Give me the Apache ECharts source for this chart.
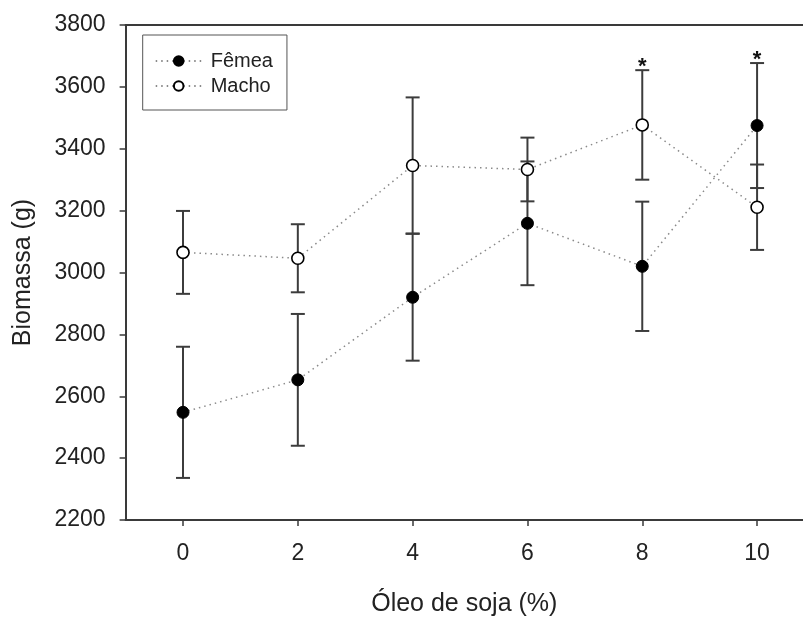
<!DOCTYPE html>
<html>
<head>
<meta charset="utf-8">
<script src="https://cdn.jsdelivr.net/npm/echarts@6/dist/echarts.min.js"></script>
<style>
  html, body { margin: 0; padding: 0; background: #fff; }
  #chart { width: 803px; height: 622px; }
</style>
</head>
<body>
<div id="chart"></div>
<script>
// Soybean oil level (%) on the x axis
const oilLevels = [0, 2, 4, 6, 8, 10];
// Mean biomass (g) and error (g) per group
const femeaMean = [2548, 2653, 2920, 3159, 3020, 3475];
const femeaErr  = [212, 213, 205, 200, 209, 202];
const machoMean = [3065, 3046, 3346, 3333, 3477, 3211];
const machoErr  = [134, 110, 220, 103, 177, 138];
// Levels flagged with an asterisk
const signifLevels = [8, 10];
// Axis tick values
const xTickValues = [0, 2, 4, 6, 8, 10];
const yMin = 2200, yMax = 3800, yStep = 200;

const FONT = '"Liberation Sans", Arial, sans-serif';
const AXIS_COLOR = '#3a3a3a';

function barData(means, errs) {
  return oilLevels.map((x, i) => [x, means[i] - errs[i], means[i] + errs[i]]);
}

function renderErrorBar(params, api) {
  const x = api.value(0);
  const lo = api.coord([x, api.value(1)]);
  const hi = api.coord([x, api.value(2)]);
  const half = 7;
  const style = { stroke: '#3c3c3c', lineWidth: 2 };
  return {
    type: 'group',
    children: [
      { type: 'line', shape: { x1: lo[0], y1: lo[1], x2: hi[0], y2: hi[1] }, style },
      { type: 'line', shape: { x1: hi[0] - half, y1: hi[1], x2: hi[0] + half, y2: hi[1] }, style },
      { type: 'line', shape: { x1: lo[0] - half, y1: lo[1], x2: lo[0] + half, y2: lo[1] }, style }
    ]
  };
}

const signifData = signifLevels.map(x => {
  const i = oilLevels.indexOf(x);
  return [x, Math.max(femeaMean[i] + femeaErr[i], machoMean[i] + machoErr[i])];
});

function renderAsterisk(params, api) {
  const p = api.coord([api.value(0), api.value(1)]);
  return {
    type: 'text',
    x: p[0],
    y: p[1] - 3,
    style: {
      text: '*',
      font: 'bold 22px ' + FONT,
      fill: '#111',
      align: 'center',
      verticalAlign: 'middle'
    }
  };
}

const chart = echarts.init(document.getElementById('chart'), null, { renderer: 'canvas' });

chart.setOption({
  animation: false,
  backgroundColor: '#fff',
  grid: { left: 125.6, right: 0, top: 25, bottom: 101, containLabel: false },
  legend: {
    orient: 'vertical',
    left: 142.7,
    top: 35,
    padding: [16, 14, 14, 12],
    itemGap: 5,
    itemWidth: 46,
    itemHeight: 12,
    borderColor: '#555',
    borderWidth: 1,
    borderRadius: 0,
    textStyle: { fontFamily: FONT, fontSize: 20, color: '#222', padding: [0, 0, 0, 4] },
    data: ['Fêmea', 'Macho']
  },
  xAxis: [
    {
      type: 'value',
      min: -1,
      max: 10.8,
      position: 'bottom',
      name: 'Óleo de soja (%)',
      nameLocation: 'middle',
      nameGap: 72,
      nameTextStyle: { fontFamily: FONT, fontSize: 25, color: '#222' },
      axisLine: { show: true, onZero: false, lineStyle: { color: AXIS_COLOR, width: 2 } },
      axisTick: { show: true, customValues: xTickValues, length: 6, lineStyle: { color: AXIS_COLOR, width: 1.5 } },
      axisLabel: { customValues: xTickValues, margin: 22, fontFamily: FONT, fontSize: 23, color: '#222' },
      splitLine: { show: false }
    },
    {
      type: 'value',
      min: -1,
      max: 10.8,
      position: 'top',
      axisLine: { show: true, onZero: false, lineStyle: { color: AXIS_COLOR, width: 2 } },
      axisTick: { show: false },
      axisLabel: { show: false },
      splitLine: { show: false }
    }
  ],
  yAxis: {
    type: 'value',
    min: yMin,
    max: yMax,
    interval: yStep,
    name: 'Biomassa (g)',
    nameLocation: 'middle',
    nameGap: 90,
    nameTextStyle: { fontFamily: FONT, fontSize: 25, color: '#222' },
    axisLine: { show: true, onZero: false, lineStyle: { color: AXIS_COLOR, width: 2 } },
    axisTick: { show: true, length: 6, lineStyle: { color: AXIS_COLOR, width: 1.5 } },
    axisLabel: { margin: 20, fontFamily: FONT, fontSize: 23, color: '#222', formatter: v => String(v) },
    splitLine: { show: false }
  },
  series: [
    {
      name: 'Fêmea-err',
      type: 'custom',
      renderItem: renderErrorBar,
      encode: { x: 0, y: [1, 2] },
      data: barData(femeaMean, femeaErr),
      z: 1,
      silent: true
    },
    {
      name: 'Macho-err',
      type: 'custom',
      renderItem: renderErrorBar,
      encode: { x: 0, y: [1, 2] },
      data: barData(machoMean, machoErr),
      z: 1,
      silent: true
    },
    {
      name: 'Fêmea',
      type: 'line',
      data: oilLevels.map((x, i) => [x, femeaMean[i]]),
      symbol: 'circle',
      symbolSize: 12,
      lineStyle: { color: '#8a8a8a', width: 1.5, type: [1.5, 4] },
      itemStyle: { color: '#000', borderColor: '#000', borderWidth: 1 },
      z: 3
    },
    {
      name: 'Macho',
      type: 'line',
      data: oilLevels.map((x, i) => [x, machoMean[i]]),
      symbol: 'circle',
      symbolSize: 12,
      lineStyle: { color: '#8a8a8a', width: 1.5, type: [1.5, 4] },
      itemStyle: { color: '#fff', borderColor: '#000', borderWidth: 1.6 },
      z: 3
    },
    {
      name: 'signif',
      type: 'custom',
      renderItem: renderAsterisk,
      encode: { x: 0, y: 1 },
      data: signifData,
      z: 4,
      silent: true
    }
  ]
});
</script>
</body>
</html>
